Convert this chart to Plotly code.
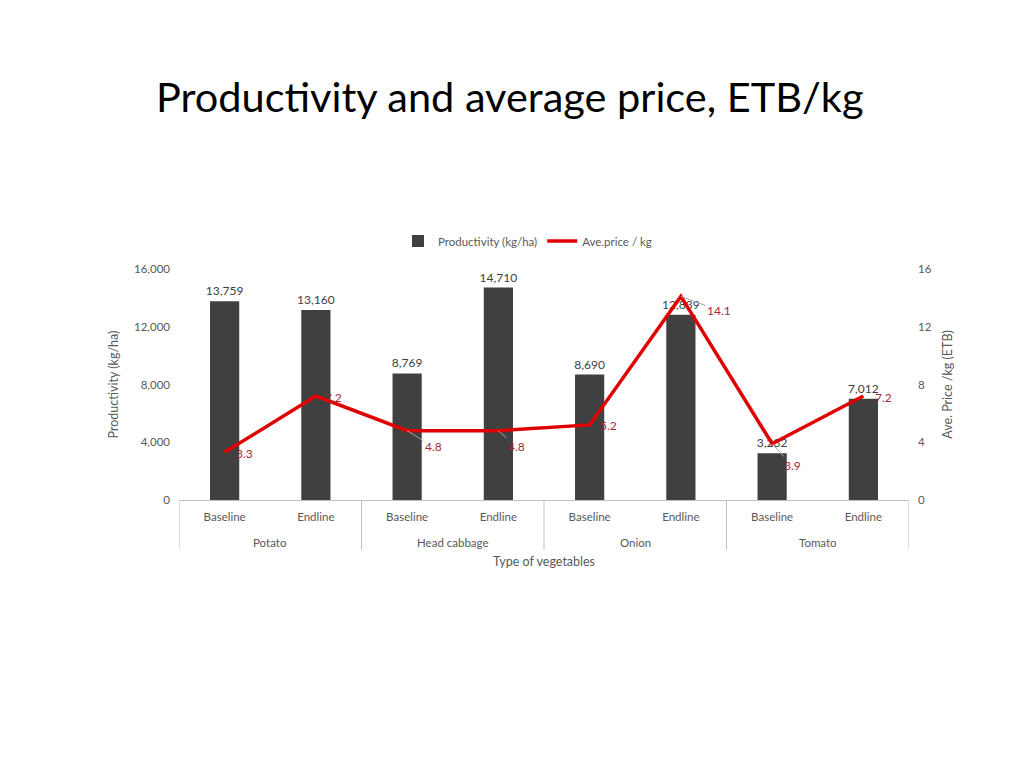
import plotly.graph_objects as go

crops = ["Potato", "Head cabbage", "Onion", "Tomato"]
phases = ["Baseline", "Endline"]
productivity = [13759, 13160, 8769, 14710, 8690, 12839, 3232, 7012]
price = [3.3, 7.2, 4.8, 4.8, 5.2, 14.1, 3.9, 7.2]
price_labels = ["3.3", "7.2", "4.8", "4.8", "5.2", "14.1", "3.9", "7.2"]

FONT = "Lato"
GREY = "#595959"
n = len(productivity)
xs = list(range(n))
sub_labels = [phases[i % 2] for i in xs]

fig = go.Figure()
fig.add_trace(go.Bar(
    x=xs, y=productivity, name="Productivity (kg/ha)",
    marker=dict(color="#404040", line=dict(width=0)),
    width=0.32,
    text=[f"{v:,}" for v in productivity], textposition="outside",
    constraintext="none",
    textfont=dict(family=FONT, size=12, color="#404040"),
    cliponaxis=False,
))
fig.add_trace(go.Scatter(
    x=xs, y=price, name="Ave.price / kg", yaxis="y2", mode="lines",
    line=dict(color="#E00000", width=3.5),
))

# price labels (offsets in px; leader lines for a few)
offsets = {0: (20, -1, False), 1: (18, -1, False), 2: (26, -16, True), 3: (18, -16, True),
           4: (19, -1, False), 5: (38, -14, True), 6: (20, -22, True), 7: (20, -1, False)}
for i, (v, lab) in enumerate(zip(price, price_labels)):
    dx, dy, arrow = offsets[i]
    if arrow:
        fig.add_annotation(x=i, y=v, xref="x", yref="y2", text=lab, showarrow=True,
                           ax=dx, ay=-dy, arrowhead=0, arrowwidth=1, arrowcolor="#A6A6A6",
                           standoff=0, startstandoff=0,
                           font=dict(family=FONT, size=12, color="#A52A3A"))
    else:
        fig.add_annotation(x=i, y=v, xref="x", yref="y2", text=lab, showarrow=False,
                           xshift=dx, yshift=dy,
                           font=dict(family=FONT, size=12, color="#A52A3A"))

# category table
for b in [-0.5, 1.5, 3.5, 5.5, 7.5]:
    fig.add_shape(type="line", xref="x", yref="paper", x0=b, x1=b, y0=0, y1=-0.216,
                  line=dict(color="#BFBFBF", width=1))
for g, crop in enumerate(crops):
    fig.add_annotation(x=2 * g + 0.5, y=-0.182, xref="x", yref="paper", text=crop,
                       showarrow=False, yanchor="middle",
                       font=dict(family=FONT, size=11.5, color=GREY))
fig.add_annotation(x=3.5, y=-0.268, xref="x", yref="paper", text="Type of vegetables",
                   showarrow=False, yanchor="middle",
                   font=dict(family=FONT, size=12.5, color=GREY))

fig.update_layout(
    width=1024, height=768,
    margin=dict(l=171, r=123, t=261, b=276, autoexpand=False),
    paper_bgcolor="white", plot_bgcolor="white",
    font=dict(family=FONT, color=GREY),
    title=dict(text="Productivity and average price, ETB/kg", x=0.1445, xanchor="left",
               y=0.884, yanchor="middle", xref="container", yref="container",
               font=dict(family=FONT, size=41.5, color="#000000")),
    showlegend=True,
    legend=dict(orientation="h", x=0.3, xanchor="left", y=1.121, yanchor="middle",
                font=dict(family=FONT, size=11.5, color=GREY), itemwidth=30,
                bgcolor="rgba(0,0,0,0)"),
    bargap=0.6,
    xaxis=dict(range=[-0.5, 7.5], tickmode="array", tickvals=xs, ticktext=sub_labels,
               showgrid=False, zeroline=False, showline=True, linecolor="#BFBFBF",
               linewidth=1, ticks="", tickfont=dict(family=FONT, size=11.5, color=GREY),
               ticklabelstandoff=6, automargin=False),
    yaxis=dict(range=[0, 16000], tickvals=[0, 4000, 8000, 12000, 16000],
               tickformat=",", showgrid=False, zeroline=False, showline=False,
               tickfont=dict(family=FONT, size=11.5, color=GREY), ticklabelstandoff=8,
               automargin=False,
               title=dict(text="Productivity (kg/ha)", standoff=12,
                          font=dict(family=FONT, size=12.5, color=GREY))),
    yaxis2=dict(range=[0, 16], tickvals=[0, 4, 8, 12, 16], overlaying="y", side="right",
                showgrid=False, zeroline=False, showline=False,
                tickfont=dict(family=FONT, size=11.5, color=GREY), ticklabelstandoff=8,
                automargin=False,
                title=dict(text="Ave. Price /kg (ETB)", standoff=12,
                           font=dict(family=FONT, size=12.5, color=GREY))),
)

fig.write_html("out.html")
